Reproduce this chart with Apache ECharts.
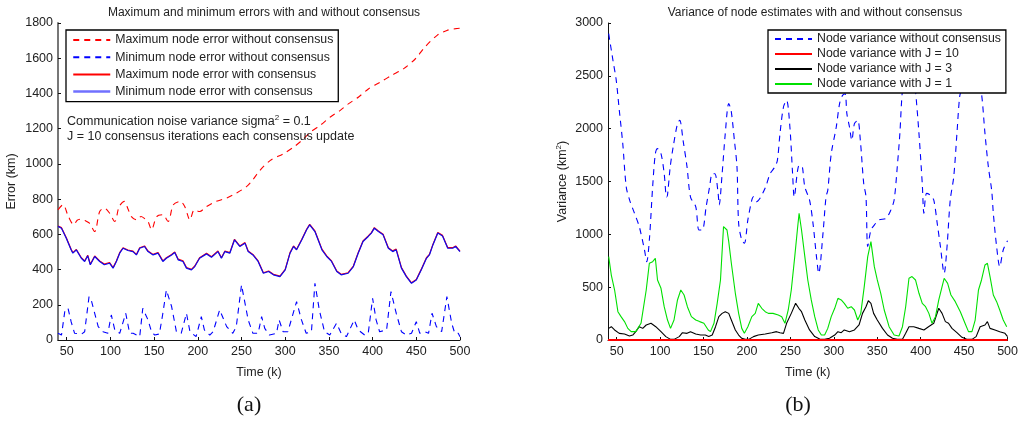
<!DOCTYPE html>
<html>
<head>
<meta charset="utf-8">
<script src="https://cdn.jsdelivr.net/npm/echarts@6/dist/echarts.min.js"></script>
<style>html,body{margin:0;padding:0;background:#fff}#c{width:1021px;height:421px}</style>
</head>
<body>
<div id="c"></div>
<script>
// ---------- Data (a) ----------
var xTickLabels = [50,100,150,200,250,300,350,400,450,500];
var maxNoCons = [[40,739],[45.7,768],[52,700],[58,654],[62,680],[66.7,686],[71,678],[76,663],[82,616],[87.7,730],[93,749],[99,720],[105,673],[110,758],[116,787],[120,745],[124,701],[130,682],[135,701],[139,690],[143,673],[147,626],[153,701],[160,711],[166,673],[172,768],[180,787],[185,758],[191,682],[196,739],[202,730],[210,758],[221,787],[233,806],[244,834],[256,872],[263,910],[271,963],[283,1020],[298,1058],[309.5,1095],[319,1133],[329,1181],[340,1219],[351.6,1266],[363,1304],[372.6,1342],[384,1380],[395.5,1427],[409,1465],[422,1503],[435.6,1541],[449,1597],[460,1664],[473.8,1730],[485,1758],[495,1768],[500,1770]];
var minNoCons = [[40,38],[44,28],[48,171],[51.5,180],[55,104],[59,38],[67,34],[70.5,47],[75.5,246],[78,227],[86,76],[91.5,47],[97,38],[101,142],[105,57],[110.6,38],[117.5,152],[122,38],[126,38],[130,28],[133.5,19],[137,180],[143,114],[147,47],[150.7,28],[156,34],[160,152],[164,284],[170,190],[175.5,47],[181,38],[187,152],[191,47],[198,19],[204,133],[207.5,57],[213.7,28],[217.5,47],[225,171],[233,76],[240,38],[244,76],[250,313],[257.6,114],[263,38],[269,38],[273,133],[276.6,66],[282,28],[290,38],[293,114],[297.6,47],[303,47],[313,218],[318.6,114],[324,38],[330,47],[334,322],[339,171],[345,47],[351,28],[358.7,95],[364,38],[370,19],[379,114],[383.5,57],[391,28],[395,38],[400,237],[404,114],[408,47],[416,57],[421,275],[427,152],[433,47],[438.6,28],[444.5,38],[450,104],[454,38],[460,47],[464,38],[468,152],[473,76],[479,47],[485,246],[490.5,95],[494,38],[498,38],[500,19]];
var maxCons = [[40,647],[44,638],[49.5,581],[55,515],[57,496],[61,514],[66.7,467],[70.5,449],[74,481],[77,430],[82,477],[87.7,449],[93,431],[99,440],[103,411],[106.8,449],[110.6,496],[114.4,524],[120,511],[125.8,505],[129.7,486],[133.5,524],[139,534],[143,505],[148.8,486],[154.5,496],[160,449],[164,467],[170,486],[173.6,500],[177.5,459],[183,450],[187,412],[192.7,401],[196.5,420],[202,467],[210,492],[215.6,473],[223,505],[227,467],[231,505],[236.6,496],[242,572],[248,534],[254,553],[257.6,505],[263,486],[269,449],[275,382],[281,392],[286.5,373],[294,363],[300,401],[305.5,496],[309.5,534],[313,515],[319,572],[324.5,629],[328,657],[334,619],[342,516],[347.5,478],[353,449],[359,392],[364,373],[372,382],[378,420],[383.5,496],[389,562],[395,591],[398.6,610],[402,638],[406.6,619],[412,600],[418,524],[423,506],[427,516],[433,411],[438.6,363],[444.5,325],[450,344],[455.6,401],[461.6,467],[465,486],[469,543],[474.6,610],[480,594],[486,524],[491.6,524],[495,534],[500,505]];
var minCons = [[40,645],[44,635],[49.5,578],[55,512],[57,493],[61,512],[66.7,464],[70.5,446],[74,478],[77,427],[82,474],[87.7,446],[93,427],[99,436],[103,408],[106.8,446],[110.6,493],[114.4,521],[120,508],[125.8,502],[129.7,483],[133.5,521],[139,531],[143,502],[148.8,483],[154.5,493],[160,446],[164,464],[170,483],[173.6,497],[177.5,455],[183,446],[187,408],[192.7,398],[196.5,417],[202,464],[210,489],[215.6,470],[223,502],[227,464],[231,502],[236.6,493],[242,569],[248,531],[254,550],[257.6,502],[263,483],[269,446],[275,379],[281,389],[286.5,370],[294,360],[300,398],[305.5,493],[309.5,531],[313,512],[319,569],[324.5,626],[328,654],[334,616],[342,512],[347.5,474],[353,446],[359,389],[364,370],[372,379],[378,417],[383.5,493],[389,559],[395,588],[398.6,607],[402,635],[406.6,616],[412,597],[418,521],[423,502],[427,512],[433,408],[438.6,360],[444.5,322],[450,341],[455.6,398],[461.6,464],[465,483],[469,540],[474.6,607],[480,591],[486,521],[491.6,521],[495,531],[500,502]];

// ---------- Data (b) ----------
var varNoCons = [[40.8,2899],[45.7,2647],[49.5,2457],[53,2174],[57,1858],[61,1448],[65,1322],[70.5,1199],[76,1073],[82,852],[84.6,741],[87.6,946],[91.4,1451],[94.5,1763],[97,1811],[101,1763],[104.7,1574],[107.4,1353],[108.5,1372],[111.6,1637],[115,1826],[120,2047],[122.6,2079],[126.4,1890],[131,1637],[135,1353],[141,1262],[144.7,1041],[148.5,1041],[153,1262],[157,1451],[160,1574],[163,1574],[166.8,1385],[168,1278],[171.4,1574],[175,1953],[179,2237],[181.7,2174],[185.5,1890],[188.5,1637],[190.4,1104],[194,946],[197,915],[201,1136],[205.6,1325],[207.5,1356],[211,1309],[215,1341],[221.6,1451],[226.6,1574],[232,1637],[235,1700],[238,1953],[242,2205],[245.6,2268],[249.4,2016],[252.5,1574],[254.4,1353],[259,1637],[262.8,1653],[266.6,1448],[272,1325],[276,1104],[280,789],[282.6,631],[287.5,1009],[291,1356],[293,1416],[297,1763],[302.8,2016],[306.6,2237],[310,2315],[313,2331],[315,2142],[318,2016],[320.7,1890],[323.7,2047],[327.5,2079],[330.5,1890],[334.4,1479],[337,1356],[339,883],[342.7,1041],[346.6,1088],[352,1136],[360,1151],[365.6,1230],[369.4,1325],[373,1637],[376,1953],[379,2363],[382.7,2489],[387,2650],[391,2600],[394,2363],[398,1953],[401.8,1479],[403.7,1199],[406.7,1388],[411,1372],[415,1325],[419,1104],[422.7,883],[427,631],[430.3,883],[434,1325],[438,1543],[441.7,1953],[444.8,2300],[447.5,2394],[452,2650],[458,2700],[464,2600],[470,2331],[474,1953],[477.9,1637],[481.7,1416],[483.6,1199],[487.4,883],[491,694],[495,852],[500,940]];
var varJ10 = [[40,0],[100,0],[150,0],[200,0],[250,0],[300,0],[350,0],[400,0],[450,0],[500,0]];
var varJ3 = [[40.8,110],[43.8,126],[47.6,95],[53,63],[59,57],[64.7,38],[68.5,47],[72,79],[76,126],[80,110],[84,142],[89.5,158],[95,126],[101,79],[106.6,32],[112,6],[116,6],[122,32],[125.7,69],[131,63],[135,79],[141,57],[146.6,47],[152,47],[156,32],[160,47],[163.8,126],[167.6,221],[171.4,252],[175,268],[179,252],[182,189],[186.6,95],[190.4,47],[194,16],[198,6],[202,6],[207.5,32],[213,47],[221,57],[228.5,69],[234,79],[238,69],[242,63],[245.6,158],[251,252],[256,347],[259.7,300],[262.8,268],[266.6,189],[272,95],[278,32],[283.7,9],[289.4,6],[295,16],[301,47],[304.7,79],[308.5,69],[312,95],[318,79],[323.7,95],[329,142],[333,252],[337,315],[339.7,372],[342.7,347],[345.8,252],[350,189],[356,110],[361.8,47],[367.5,16],[373,6],[379,6],[382.7,63],[386.5,126],[392,126],[398,110],[403.7,95],[409,126],[415,158],[420.8,300],[424.6,252],[428.4,174],[432,158],[436,110],[441.7,69],[447.5,25],[453,6],[459,6],[463.8,32],[468.4,126],[474,142],[476.8,174],[479.8,110],[485.5,95],[491,79],[497,63],[500,32]];
var varJ1 = [[40.8,789],[43.8,615],[47.6,473],[51.4,268],[55,221],[59,174],[62.8,110],[66.7,79],[72,79],[78,158],[84,473],[87.6,726],[91.4,741],[94.5,773],[97,568],[101,489],[104.7,315],[108.5,189],[112,110],[116,189],[120,379],[123.8,473],[127.6,426],[131.4,315],[136,221],[141,189],[145.5,174],[150.4,158],[155.4,95],[158,79],[162,158],[165.7,347],[169.5,568],[173,1073],[177,1041],[179,931],[182,726],[186.6,442],[190.4,252],[194,110],[197,63],[201,126],[205.6,221],[209.5,252],[213,347],[217,300],[221,268],[224.6,252],[230,252],[236,237],[240,221],[243.7,158],[247.5,284],[251,473],[255,789],[258,1041],[260,1199],[262.8,1041],[266.6,789],[270,568],[274,379],[278,221],[282,95],[285.6,47],[289.4,47],[293,110],[297,221],[301,300],[304.7,394],[308.5,379],[312,347],[316,300],[320,315],[323.7,284],[327.5,189],[331,252],[335,505],[339,789],[342.7,931],[346.6,694],[350,568],[354,442],[358,284],[363.6,126],[369.4,47],[375,38],[379,126],[382.7,315],[386.5,584],[390,600],[394,568],[398,442],[401.8,347],[405.6,315],[409.4,252],[413,158],[417,221],[420.8,379],[424.6,505],[427,584],[431,536],[434.8,426],[439.8,363],[445.6,268],[451,158],[455,79],[459,79],[462.7,189],[466.5,473],[470,568],[474,710],[476.8,726],[479.8,600],[483.6,426],[487.4,363],[491,284],[495,189],[499,126]];

var FONT = 'Liberation Sans';
var TXT = '#222';
var plain = function (v) { return String(v); };
var hiddenSym = {color: 'rgba(0,0,0,0)', borderColor: 'rgba(0,0,0,0)', borderWidth: 0, opacity: 0};

function xAxisCfg(gi) {
  return {
    type: 'value', gridIndex: gi, min: 40, max: 500,
    name: 'Time (k)', nameLocation: 'middle', nameGap: 26,
    nameTextStyle: {fontFamily: FONT, fontSize: 12.5, color: TXT},
    axisLine: {show: true, onZero: false, lineStyle: {color: '#111', width: 1}},
    axisTick: {show: true, inside: true, length: 3, customValues: xTickLabels, lineStyle: {color: '#111'}},
    axisLabel: {customValues: xTickLabels, formatter: plain, margin: 5, fontFamily: FONT, fontSize: 12.5, color: TXT},
    splitLine: {show: false}
  };
}
function yAxisCfg(gi, max, interval, name, nameGap, lineColor, lineWidth) {
  return {
    type: 'value', gridIndex: gi, min: 0, max: max, interval: interval,
    name: name, nameLocation: 'middle', nameGap: nameGap,
    nameTextStyle: {fontFamily: FONT, fontSize: 12.5, color: TXT,
      rich: {sup: {fontSize: 8, fontFamily: FONT, color: TXT, padding: [0, 0, 8, 0]}}},
    axisLine: {show: true, lineStyle: {color: lineColor, width: lineWidth}},
    axisTick: {show: true, inside: true, length: 3, lineStyle: {color: '#111'}},
    axisLabel: {formatter: plain, margin: 5, fontFamily: FONT, fontSize: 12.5, color: TXT},
    splitLine: {show: false}
  };
}

var option = {
  backgroundColor: '#fff',
  animation: false,
  title: [
    {text: 'Maximum and minimum errors with and without consensus', left: 259, top: 2, textAlign: 'center',
     textStyle: {fontFamily: FONT, fontSize: 12, fontWeight: 'normal', color: TXT}},
    {text: 'Variance of node estimates with and without consensus', left: 810, top: 2, textAlign: 'center',
     textStyle: {fontFamily: FONT, fontSize: 12, fontWeight: 'normal', color: TXT}}
  ],
  grid: [
    {left: 58, top: 23, width: 402, height: 317},
    {left: 608, top: 23, width: 403, height: 317}
  ],
  xAxis: [xAxisCfg(0), xAxisCfg(1)],
  yAxis: [
    yAxisCfg(0, 1800, 200, 'Error (km)', 40, '#777', 2),
    yAxisCfg(1, 3000, 500, 'Variance (km{sup|2})', 37, '#111', 1)
  ],
  legend: [
    {data: ['Maximum node error without consensus', 'Minimum node error without consensus', 'Maximum node error with consensus',
            {name: 'Minimum node error with consensus', lineStyle: {color: '#7070ff', width: 2.5}}],
     orient: 'vertical', left: 66, top: 30, padding: [3, 5, 3, 6], itemGap: 3.2, itemWidth: 37, itemHeight: 14,
     backgroundColor: '#fff', borderColor: '#000', borderWidth: 1.3, itemStyle: hiddenSym,
     textStyle: {fontFamily: FONT, fontSize: 12.3, color: TXT, lineHeight: 14}},
    {data: ['Node variance without consensus', 'Node variance with J = 10', 'Node variance with J = 3', 'Node variance with J = 1'],
     orient: 'vertical', left: 768, top: 30, padding: [2, 5, 2, 6], itemGap: 1, itemWidth: 37, itemHeight: 14,
     backgroundColor: '#fff', borderColor: '#000', borderWidth: 1.3, itemStyle: hiddenSym,
     textStyle: {fontFamily: FONT, fontSize: 12.3, color: TXT, lineHeight: 14}}
  ],
  series: [
    {name: 'Maximum node error without consensus', type: 'line', xAxisIndex: 0, yAxisIndex: 0, data: maxNoCons,
     symbol: 'none', smooth: 0.3, lineStyle: {color: '#ff0000', width: 1.1, type: [6, 5]}, itemStyle: {color: '#ff0000'}},
    {name: 'Minimum node error without consensus', type: 'line', xAxisIndex: 0, yAxisIndex: 0, data: minNoCons,
     symbol: 'none', lineStyle: {color: '#0000ff', width: 1.1, type: [6, 5]}, itemStyle: {color: '#0000ff'}},
    {name: 'Maximum node error with consensus', type: 'line', xAxisIndex: 0, yAxisIndex: 0, data: maxCons,
     symbol: 'none', lineStyle: {color: '#ff0000', width: 1.2}, itemStyle: {color: '#ff0000'}},
    {name: 'Minimum node error with consensus', type: 'line', xAxisIndex: 0, yAxisIndex: 0, data: minCons,
     symbol: 'none', lineStyle: {color: '#0a0af0', width: 1.2}, itemStyle: {color: '#0a0af0'}},
    {name: 'Node variance without consensus', type: 'line', xAxisIndex: 1, yAxisIndex: 1, data: varNoCons,
     symbol: 'none', smooth: 0.3, lineStyle: {color: '#0000ff', width: 1.1, type: [6, 5]}, itemStyle: {color: '#0000ff'}},
    {name: 'Node variance with J = 3', type: 'line', xAxisIndex: 1, yAxisIndex: 1, data: varJ3,
     symbol: 'none', lineStyle: {color: '#000000', width: 1.1}, itemStyle: {color: '#000000'}},
    {name: 'Node variance with J = 1', type: 'line', xAxisIndex: 1, yAxisIndex: 1, data: varJ1,
     symbol: 'none', lineStyle: {color: '#00e000', width: 1.1}, itemStyle: {color: '#00e000'}},
    {name: 'Node variance with J = 10', type: 'line', xAxisIndex: 1, yAxisIndex: 1, data: varJ10,
     symbol: 'none', lineStyle: {color: '#ff0000', width: 2}, itemStyle: {color: '#ff0000'}}
  ],
  graphic: [
    {type: 'text', left: 67, top: 114, z: 10,
     style: {text: 'Communication noise variance sigma{sup|2} = 0.1', font: '12.5px "Liberation Sans"', fill: TXT,
       rich: {sup: {fontSize: 8, fontFamily: FONT, fill: TXT, padding: [0, 0, 8, 0]}}}},
    {type: 'text', left: 67, top: 130, z: 10,
     style: {text: 'J = 10 consensus iterations each consensus update', font: '12.5px "Liberation Sans"', fill: TXT}},
    {type: 'text', x: 249, y: 405, z: 10,
     style: {text: '(a)', font: '22px "Liberation Serif"', fill: '#111', align: 'center', verticalAlign: 'middle'}},
    {type: 'text', x: 798, y: 405, z: 10,
     style: {text: '(b)', font: '22px "Liberation Serif"', fill: '#111', align: 'center', verticalAlign: 'middle'}}
  ]
};
var chart = echarts.init(document.getElementById('c'));
chart.setOption(option);
</script>
</body>
</html>
